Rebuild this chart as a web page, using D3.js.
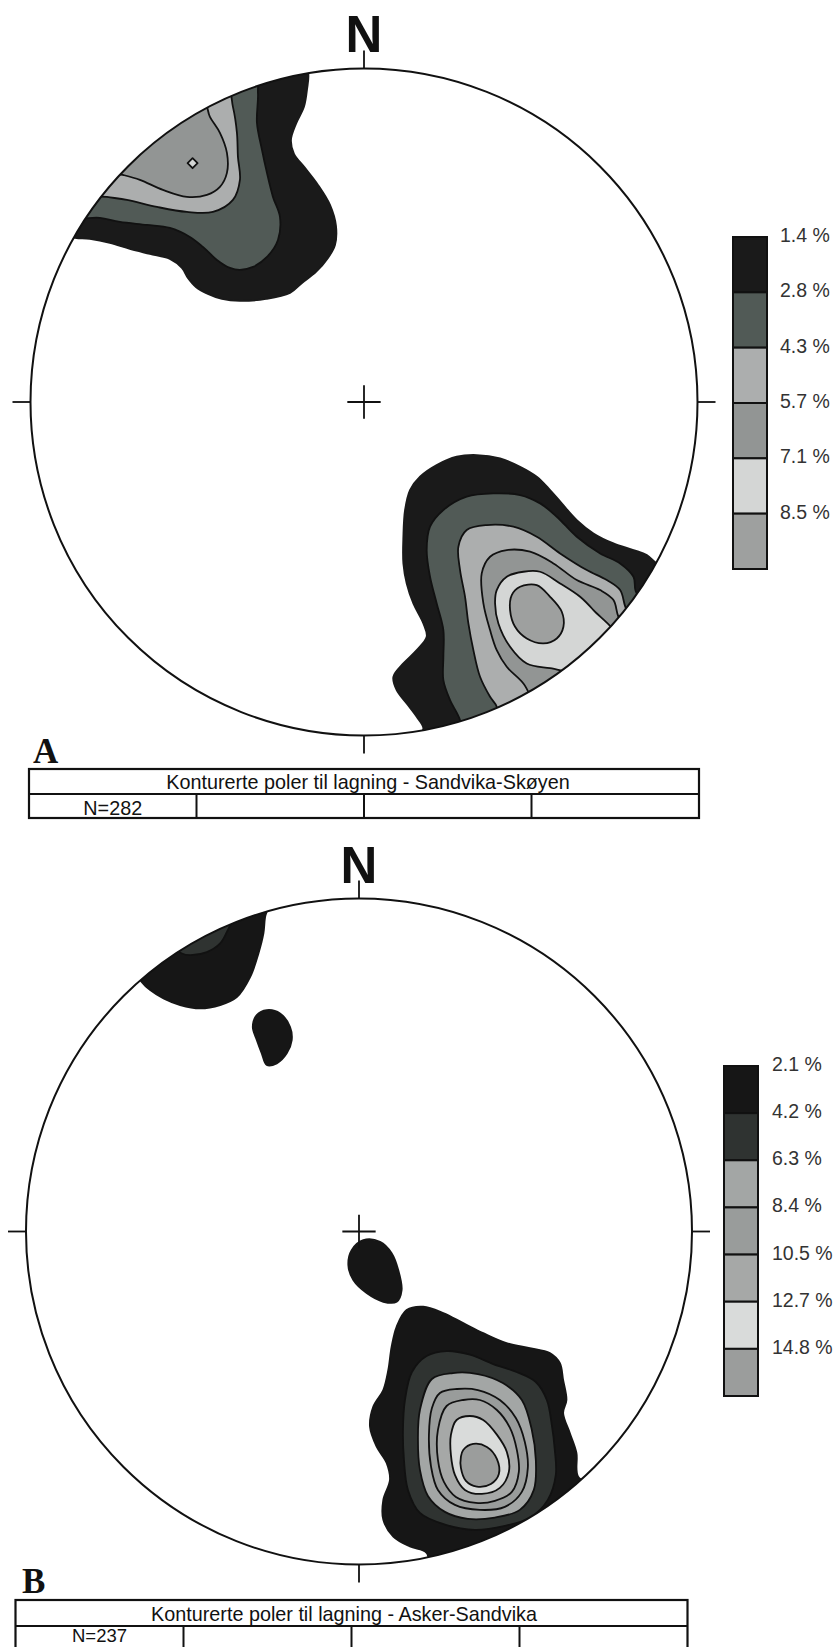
<!DOCTYPE html>
<html><head><meta charset="utf-8">
<script src="https://cdn.jsdelivr.net/npm/d3@7"></script>
<style>body{margin:0;background:#fff}svg{display:block}</style>
</head><body>
<svg id="chart" width="835" height="1647"></svg>
<script>
// ---------------- DATA ----------------
// legend classes (contour thresholds) and their fills
const legendLabelsA = ["1.4 %","2.8 %","4.3 %","5.7 %","7.1 %","8.5 %"];
const legendColoursA = ["#1a1a1a","#515a56","#acaeae","#929594","#d4d6d5","#9ea09f"];
const legendLabelsB = ["2.1 %","4.2 %","6.3 %","8.4 %","10.5 %","12.7 %","14.8 %"];
const legendColoursB = ["#161616","#2f3331","#a3a6a5","#999c9b","#a6a8a7","#d9dbda","#9b9d9c"];

const titleA = "Konturerte poler til lagning - Sandvika-Skøyen";
const countA = "N=282";
const titleB = "Konturerte poler til lagning - Asker-Sandvika";
const countB = "N=237";

// contour polygons, in net units (percent of primitive radius; [east, north])
// Net A, NW cluster
const aNW1 = [[-19.2,102.6],[-16.8,99.0],[-17.1,93.6],[-18.0,88.5],[-20.4,83.4],[-21.9,78.6],[-21.0,74.4],[-17.7,70.2],[-13.8,65.1],[-10.2,59.1],[-8.4,52.8],[-8.7,47.1],[-10.8,43.2],[-14.4,39.0],[-18.6,35.7],[-22.2,32.7],[-29.4,30.9],[-37.2,30.3],[-42.6,30.9],[-46.8,32.4],[-50.4,34.5],[-52.8,37.2],[-54.6,40.2],[-58.2,42.9],[-64.2,44.4],[-70.2,45.9],[-76.2,47.7],[-82.2,48.9],[-88.2,49.5],[-97.2,54.6],[-79.2,96.6]];
const aNW2 = [[-32.7,98.1],[-31.8,92.7],[-32.1,83.7],[-30.6,75.6],[-29.1,68.7],[-27.3,61.5],[-25.2,55.5],[-25.8,48.6],[-29.1,43.5],[-33.3,40.5],[-37.2,39.6],[-40.2,40.2],[-44.1,42.6],[-48.3,46.5],[-52.2,49.5],[-58.2,52.2],[-65.1,53.1],[-73.2,54.0],[-79.2,55.2],[-88.2,56.1],[-73.2,90.6]];
const aNW3 = [[-41.4,95.1],[-39.3,88.5],[-38.1,80.7],[-37.8,73.5],[-37.2,66.6],[-39.3,60.6],[-45.3,57.0],[-53.1,57.0],[-62.1,58.5],[-71.1,60.6],[-77.1,61.5],[-82.2,62.4],[-64.2,84.6]];
const aNW4 = [[-48.3,90.6],[-46.2,85.5],[-43.2,80.7],[-41.1,74.7],[-41.1,68.7],[-43.2,64.5],[-47.1,62.1],[-53.1,61.5],[-60.3,63.6],[-67.2,66.6],[-72.3,68.1],[-76.2,69.0],[-61.2,87.6]];
const aNW5 = [[-51.4,73.1],[-49.9,71.6],[-51.4,70.1],[-52.9,71.6]];
// Net A, SE cluster
const aSE1 = [[17.8,-97.9],[15.8,-94.4],[12.8,-90.4],[9.8,-86.4],[8.8,-82.4],[11.8,-78.4],[15.8,-74.4],[18.8,-70.4],[17.8,-66.4],[14.8,-60.4],[12.8,-54.4],[11.8,-48.4],[11.8,-40.4],[12.3,-32.4],[13.8,-26.4],[16.8,-22.4],[21.8,-18.9],[27.8,-16.4],[33.8,-15.9],[40.8,-16.9],[46.8,-19.4],[51.8,-22.4],[55.8,-26.4],[59.3,-30.4],[63.8,-35.4],[68.8,-39.4],[74.8,-42.4],[80.8,-44.4],[84.8,-45.9],[87.8,-48.4],[95,-52],[75,-90],[35,-108],[15,-103]];
const aSE2 = [[28.8,-95.4],[25.8,-89.4],[23.8,-83.4],[23.8,-76.4],[23.8,-68.4],[21.8,-60.4],[19.8,-52.4],[18.8,-44.4],[19.8,-37.4],[23.8,-32.4],[30.8,-28.4],[38.8,-27.4],[46.8,-27.9],[52.8,-30.4],[57.8,-34.4],[63.8,-40.4],[70.8,-45.4],[76.8,-48.4],[80.8,-52.4],[81.8,-57.4],[90,-62],[65,-95],[30,-105]];
const aSE3 = [[39.8,-91.4],[37.8,-88.4],[34.8,-82.4],[32.8,-74.4],[31.3,-66.4],[30.3,-58.4],[28.8,-50.4],[28.3,-43.4],[30.8,-38.4],[36.8,-36.9],[44.8,-37.4],[51.8,-40.4],[58.8,-45.4],[66.8,-50.4],[72.8,-53.4],[76.8,-56.4],[78.8,-62.4],[84,-68],[60,-95],[40,-100]];
const aSE4 = [[35.8,-60.4],[35.3,-51.4],[37.8,-46.4],[42.8,-44.4],[49.8,-44.9],[56.8,-48.4],[63.8,-53.4],[70.8,-56.4],[74.8,-59.4],[76.3,-64.4],[80,-70],[55,-95],[47.8,-84.4],[42.8,-79.4],[39.8,-74.4],[37.8,-68.4]];
const aSE5 = [[39.3,-60.4],[39.8,-56.4],[42.8,-52.4],[47.8,-50.9],[52.8,-50.9],[58.8,-54.4],[64.8,-58.4],[68.8,-62.4],[76.2,-71.4],[67.8,-81.0],[55.8,-79.8],[48.8,-78.4],[43.8,-73.4],[40.3,-66.4]];
const aSE6 = [[46.8,-55.4],[51.8,-54.9],[55.8,-58.4],[59.3,-62.9],[59.8,-67.4],[57.8,-70.9],[53.8,-72.4],[48.8,-70.9],[45.3,-67.4],[43.8,-62.4],[44.3,-57.9]];

// Net B, NW cluster, small blobs
const bNW1 = [[-28.2,94.4],[-28.7,89.5],[-30.2,83.5],[-32.7,76.4],[-36.7,70.4],[-41.7,68.0],[-47.7,67.0],[-53.7,68.0],[-58.7,70.0],[-62.7,72.5],[-65.2,74.9],[-68.7,81.5],[-47.7,99.5],[-26.7,101.0]];
const bNW2 = [[-39.7,89.9],[-41.7,86.5],[-45.7,83.9],[-50.7,83.0],[-53.2,83.5],[-58,88],[-45,100],[-37,98]];
const bBlob1 = [[-27.7,66.5],[-23.7,65.5],[-20.7,61.4],[-20.2,57.5],[-21.7,53.5],[-24.7,50.5],[-27.7,50.0],[-29.2,53.5],[-30.7,57.5],[-31.9,61.4],[-30.7,65.0]];
const bCentre1 = [[1.3,-2.6],[6.3,-3.1],[9.8,-6.5],[11.8,-11.6],[12.8,-17.6],[11.3,-21.1],[7.3,-21.1],[2.3,-18.5],[-1.7,-14.6],[-3.2,-10.1],[-2.2,-5.6]];
// Net B, SE cluster
const bSE1 = [[14.3,-23.6],[19.3,-22.6],[25.3,-24.5],[31.3,-27.5],[37.3,-30.5],[44.3,-33.5],[51.3,-35.0],[57.3,-36.5],[60.3,-39.5],[61.3,-44.6],[62.3,-50.6],[61.3,-54.5],[63.3,-60.5],[65.3,-66.5],[65.8,-73.6],[72,-78],[45,-105],[22,-102],[20.3,-96.5],[15.3,-94.6],[10.3,-91.6],[7.3,-86.6],[7.3,-80.6],[9.3,-74.6],[8.3,-69.5],[5.3,-64.6],[3.3,-58.6],[4.3,-52.6],[7.3,-47.6],[8.8,-41.6],[9.8,-34.6],[11.3,-28.6]];
const bSE2 = [[20.3,-37.4],[26.3,-35.9],[33.3,-37.0],[40.3,-39.8],[47.3,-42.2],[53.1,-45.2],[56.4,-50.6],[57.9,-58.1],[58.8,-65.6],[59.1,-73.1],[56.7,-80.6],[51.3,-86.0],[43.8,-88.4],[34.8,-89.6],[25.8,-88.0],[18.3,-84.5],[14.7,-77.6],[13.5,-68.6],[13.2,-59.6],[13.8,-50.6],[15.9,-42.2]];
const bSE3 = [[21.9,-44.3],[28.2,-42.5],[35.7,-42.8],[43.2,-45.5],[48.9,-50.6],[51.9,-59.6],[53.1,-68.6],[52.5,-77.6],[48.3,-83.6],[40.8,-85.9],[32.7,-86.3],[25.8,-84.2],[20.7,-79.4],[18.3,-71.6],[17.7,-62.6],[18.3,-53.6]];
const bSE4 = [[24.3,-48.5],[29.4,-47.3],[35.7,-47.6],[42.3,-50.6],[47.1,-56.0],[49.8,-63.2],[50.7,-71.0],[48.9,-78.2],[43.8,-82.7],[36.3,-83.6],[28.8,-82.1],[23.7,-77.6],[21.6,-70.4],[21.0,-61.1],[21.9,-53.0]];
const bSE5 = [[26.3,-52.4],[31.3,-50.6],[36.3,-50.6],[41.4,-53.6],[45.3,-58.9],[47.4,-65.6],[48.0,-72.2],[45.9,-78.2],[40.8,-80.9],[35.1,-81.5],[29.1,-79.7],[25.5,-75.2],[23.7,-68.6],[23.7,-59.6]];
const bSE6 = [[29.3,-56.6],[33.3,-55.4],[37.3,-56.6],[41.4,-61.0],[44.4,-66.2],[45.0,-72.2],[42.3,-77.0],[36.9,-78.8],[31.8,-77.6],[28.8,-73.1],[27.6,-67.1],[27.6,-61.1]];
const bSE7 = [[31.3,-65.6],[34.3,-63.8],[38.4,-64.7],[41.4,-68.3],[42.0,-72.8],[39.6,-75.8],[35.4,-76.6],[32.1,-74.9],[30.6,-71.0],[30.6,-67.7]];

// [class index, polygon]
const contoursA = [[0,aNW1],[1,aNW2],[2,aNW3],[3,aNW4],[4,aNW5],[0,aSE1],[1,aSE2],[2,aSE3],[3,aSE4],[4,aSE5],[5,aSE6]];
const contoursB = [[0,bNW1],[1,bNW2],[0,bBlob1],[0,bCentre1],[0,bSE1],[1,bSE2],[2,bSE3],[3,bSE4],[4,bSE5],[5,bSE6],[6,bSE7]];

// ---------------- LAYOUT ----------------
const svg = d3.select("#chart");
const sans = "'Liberation Sans', Arial, sans-serif";
const serif = "'Liberation Serif', 'Times New Roman', serif";

function drawNet(id, net, contours, colours) {
  const x = d3.scaleLinear().domain([-100, 100]).range([net.cx - net.r, net.cx + net.r]);
  const y = d3.scaleLinear().domain([-100, 100]).range([net.cy + net.r, net.cy - net.r]);
  const g = svg.append("g");
  g.append("clipPath").attr("id", id).append("circle")
    .attr("cx", x(0)).attr("cy", y(0)).attr("r", x(100) - x(0));
  const smooth = d3.line().x(d => x(d[0])).y(d => y(d[1])).curve(d3.curveCatmullRomClosed.alpha(0.5));
  const straight = d3.line().x(d => x(d[0])).y(d => y(d[1])).curve(d3.curveLinearClosed);
  g.append("g").attr("clip-path", `url(#${id})`)
    .selectAll("path").data(contours).join("path")
    .attr("d", d => (d[1].length <= 4 ? straight : smooth)(d[1]))
    .attr("fill", d => colours[d[0]])
    .attr("stroke", d => d[0] === 0 ? colours[0] : "#111")
    .attr("stroke-width", 1.8)
    .attr("stroke-linejoin", "round");
  // primitive circle
  g.append("circle").attr("cx", x(0)).attr("cy", y(0)).attr("r", x(100) - x(0))
    .attr("fill", "none").attr("stroke", "#111").attr("stroke-width", 2);
  // ticks N E S W and centre cross
  const tk = 5.4;
  const ticks = [[[0,100],[0,100+tk]],[[0,-100],[0,-100-tk]],[[100,0],[100+tk,0]],[[-100,0],[-100-tk,0]],
                 [[-5,0],[5,0]],[[0,-5],[0,5]]];
  g.selectAll("line.tick").data(ticks).join("line").attr("class","tick")
    .attr("x1", d => x(d[0][0])).attr("y1", d => y(d[0][1]))
    .attr("x2", d => x(d[1][0])).attr("y2", d => y(d[1][1]))
    .attr("stroke", "#111").attr("stroke-width", 1.8);
  g.append("text").attr("x", x(0)).attr("y", net.nBase).attr("text-anchor", "middle")
    .attr("font-family", sans).attr("font-weight", "bold").attr("font-size", 51)
    .attr("fill", "#111").text("N");
}

function drawLegend(lg, labels, colours) {
  const yl = d3.scaleLinear().domain([0, labels.length]).range([lg.top, lg.bottom]);
  const g = svg.append("g");
  g.selectAll("rect").data(colours).join("rect")
    .attr("x", lg.x).attr("width", lg.w)
    .attr("y", (d, i) => yl(i)).attr("height", (d, i) => yl(i + 1) - yl(i))
    .attr("fill", d => d).attr("stroke", "#111").attr("stroke-width", 2);
  g.selectAll("text").data(labels).join("text")
    .attr("x", lg.tx).attr("y", (d, i) => yl(i) + 5)
    .attr("font-family", sans).attr("font-size", 19.5).attr("fill", "#333")
    .text(d => d);
}

function drawTable(tb, title, count, letter) {
  const g = svg.append("g");
  const cols = d3.scaleLinear().domain([0, 4]).range([tb.x0, tb.x1]);
  g.append("text").attr("x", tb.lx).attr("y", tb.ly).attr("font-family", serif)
    .attr("font-weight", "bold").attr("font-size", 35).attr("fill", "#111").text(letter);
  g.append("rect").attr("x", tb.x0).attr("y", tb.y0).attr("width", tb.x1 - tb.x0).attr("height", tb.y2 - tb.y0)
    .attr("fill", "none").attr("stroke", "#111").attr("stroke-width", 2.2);
  g.append("line").attr("x1", tb.x0).attr("x2", tb.x1).attr("y1", tb.y1).attr("y2", tb.y1)
    .attr("stroke", "#111").attr("stroke-width", 2.2);
  g.selectAll("line.col").data([1,2,3]).join("line").attr("class","col")
    .attr("x1", d => cols(d)).attr("x2", d => cols(d)).attr("y1", tb.y1).attr("y2", tb.y2)
    .attr("stroke", "#111").attr("stroke-width", 2);
  g.append("text").attr("x", tb.tx).attr("y", tb.y1 - 5).attr("text-anchor", "middle")
    .attr("font-family", sans).attr("font-size", 19.8).attr("fill", "#111").text(title);
  g.append("text").attr("x", (cols(0) + cols(1)) / 2).attr("y", tb.ny).attr("text-anchor", "middle")
    .attr("font-family", sans).attr("font-size", tb.nfs).attr("fill", "#111").text(count);
}

drawNet("clipA", {cx: 364, cy: 402, r: 333.5, nBase: 52}, contoursA, legendColoursA);
drawLegend({x: 733, w: 34, top: 237, bottom: 569, tx: 780}, legendLabelsA, legendColoursA);
drawTable({x0: 29, x1: 699, y0: 769, y1: 794, y2: 818, tx: 368, ny: 815, nfs: 19.8, lx: 33, ly: 763}, titleA, countA, "A");

drawNet("clipB", {cx: 359, cy: 1231.5, r: 333, nBase: 883}, contoursB, legendColoursB);
drawLegend({x: 724, w: 34, top: 1066, bottom: 1396, tx: 772}, legendLabelsB, legendColoursB);
drawTable({x0: 15.5, x1: 687.5, y0: 1600, y1: 1626, y2: 1652, tx: 344, ny: 1642, nfs: 18.5, lx: 22, ly: 1593}, titleB, countB, "B");
</script>
</body></html>
